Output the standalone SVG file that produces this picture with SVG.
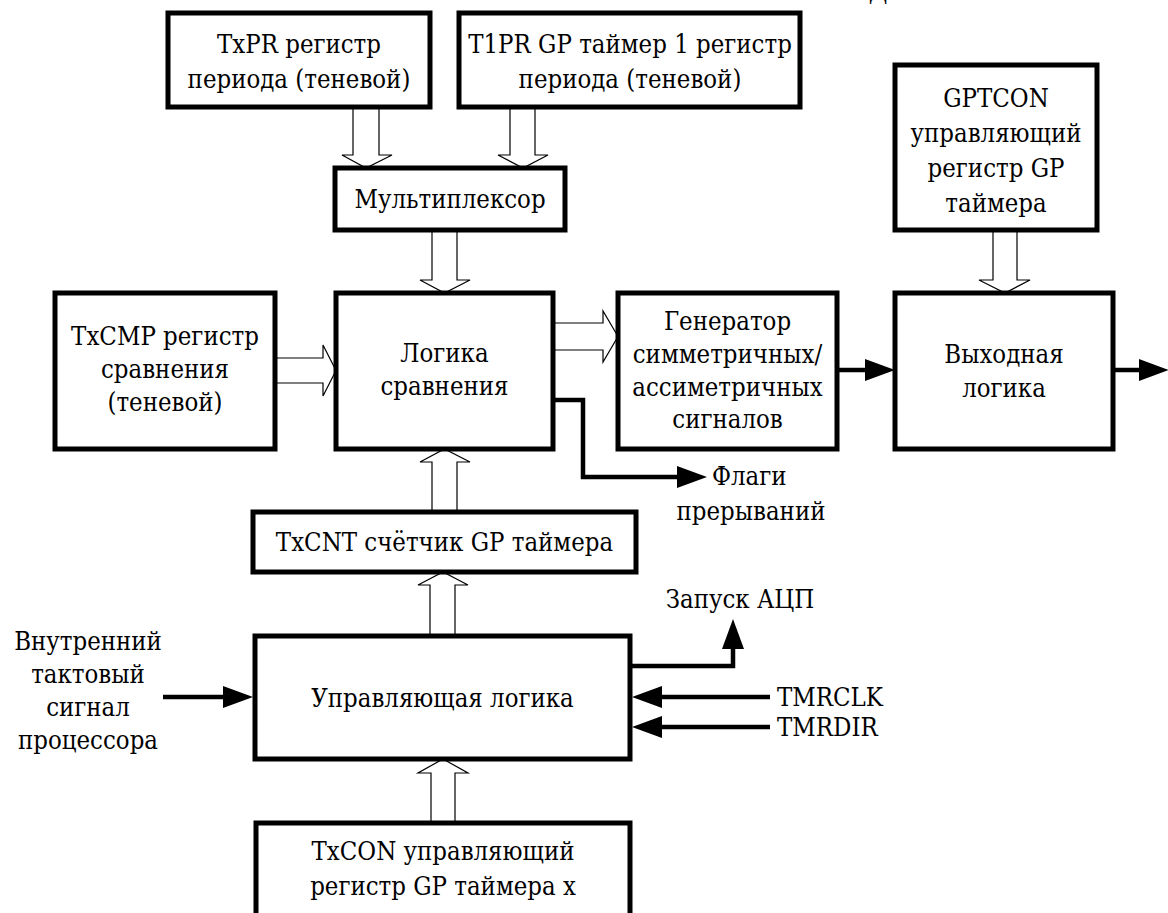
<svg xmlns="http://www.w3.org/2000/svg" width="1168" height="913" viewBox="0 0 1168 913">
<style>
.box{fill:#fff;stroke:#000;stroke-width:5;stroke-linejoin:miter}
.t{font-family:"DejaVu Serif",serif;font-stretch:condensed;font-size:25.5px;fill:#000;text-anchor:middle}
.ts{font-family:"DejaVu Serif",serif;font-stretch:condensed;font-size:25.5px;fill:#000;text-anchor:start}
.bus{fill:#fff;stroke:#000;stroke-width:1.2;stroke-linejoin:miter}
.wire{fill:none;stroke:#000;stroke-width:4.5;stroke-linejoin:miter;marker-end:url(#ah)}
</style>
<defs>
<marker id="ah" markerUnits="userSpaceOnUse" markerWidth="32" markerHeight="22" viewBox="0 0 32 22" refX="1" refY="11" orient="auto">
<path d="M0,0 L30,11 L0,22 z" fill="#000"/>
</marker>
</defs>
<rect width="1168" height="913" fill="#fff"/>
<text class="t" x="878" y="0">Д</text>

<g id="connectors">
<path class="bus" d="M353,107 V155 H342 L366,168 L392,155 H379 V107"/>
<path class="bus" d="M510,107 V155 H498 L523,168 L548,155 H535 V107"/>
<path class="bus" d="M432,230 V280 H420 L444.5,293 L470,280 H457 V230"/>
<path class="bus" d="M993,230 V280 H979 L1005,293 L1030,280 H1017 V230"/>
<path class="bus" d="M275,358 H323 V345 L336,370.5 L323,396 V383 H275"/>
<path class="bus" d="M553,323 H603 V311 L618,336.5 L603,362 V350 H553"/>
<path class="bus" d="M432,512 V462 H420 L444.5,449 L470,462 H457 V512"/>
<path class="bus" d="M430,636 V585 H418 L443,572 L468,585 H455 V636"/>
<path class="bus" d="M431,823 V773 H418 L443,759 L468,773 H455 V823"/>
<path class="wire" d="M553,400 H583 V477 H678"/>
<path class="wire" d="M837,370 H866"/>
<path class="wire" d="M1113,370 H1140"/>
<path class="wire" d="M163,697 H224"/>
<path class="wire" d="M630,666 H733 V648"/>
<path class="wire" d="M770,697 H661"/>
<path class="wire" d="M770,727 H661"/>
</g>

<g id="txpr">
<rect class="box" x="168" y="13" width="262" height="94"/>
<text class="t" x="299" y="53">TxPR регистр</text>
<text class="t" x="299" y="88">периода (теневой)</text>
</g>
<g id="t1pr">
<rect class="box" x="459" y="13" width="341" height="94"/>
<text class="t" x="630" y="53">T1PR GP таймер 1 регистр</text>
<text class="t" x="630" y="88">периода (теневой)</text>
</g>
<g id="gptcon">
<rect class="box" x="895" y="65" width="202" height="165"/>
<text class="t" x="996" y="107">GPTCON</text>
<text class="t" x="996" y="142">управляющий</text>
<text class="t" x="996" y="177">регистр GP</text>
<text class="t" x="996" y="212">таймера</text>
</g>
<g id="mux">
<rect class="box" x="335" y="168" width="230" height="62"/>
<text class="t" x="450" y="208">Мультиплексор</text>
</g>
<g id="txcmp">
<rect class="box" x="55" y="293" width="220" height="156"/>
<text class="t" x="165" y="345">TxCMP регистр</text>
<text class="t" x="165" y="378">сравнения</text>
<text class="t" x="165" y="411">(теневой)</text>
</g>
<g id="logic">
<rect class="box" x="336" y="293" width="217" height="156"/>
<text class="t" x="444.5" y="362">Логика</text>
<text class="t" x="444.5" y="395">сравнения</text>
</g>
<g id="gen">
<rect class="box" x="618" y="293" width="219" height="156"/>
<text class="t" x="727.5" y="330">Генератор</text>
<text class="t" x="727.5" y="363">симметричных/</text>
<text class="t" x="727.5" y="396">ассиметричных</text>
<text class="t" x="727.5" y="428">сигналов</text>
</g>
<g id="outlogic">
<rect class="box" x="895" y="293" width="218" height="156"/>
<text class="t" x="1004" y="363">Выходная</text>
<text class="t" x="1004" y="397">логика</text>
</g>
<g id="flags">
<text class="ts" x="712" y="485">Флаги</text>
<text class="t" x="751" y="520">прерываний</text>
</g>
<g id="txcnt">
<rect class="box" x="253" y="512" width="383" height="60"/>
<text class="t" x="444.5" y="551">TxCNT счётчик GP таймера</text>
</g>
<g id="adc">
<text class="t" x="740" y="608">Запуск АЦП</text>
</g>
<g id="clk">
<text class="t" x="88" y="650">Внутренний</text>
<text class="t" x="88" y="683">тактовый</text>
<text class="t" x="88" y="716">сигнал</text>
<text class="t" x="88" y="749">процессора</text>
</g>
<g id="ctrl">
<rect class="box" x="255" y="636" width="375" height="123"/>
<text class="t" x="442.5" y="707">Управляющая логика</text>
</g>
<g id="tmr">
<text class="ts" x="777" y="706">TMRCLK</text>
<text class="ts" x="777" y="736">TMRDIR</text>
</g>
<g id="txcon">
<rect class="box" x="256" y="823" width="374" height="120"/>
<text class="t" x="443" y="860">TxCON управляющий</text>
<text class="t" x="443" y="895">регистр GP таймера x</text>
</g>
</svg>
